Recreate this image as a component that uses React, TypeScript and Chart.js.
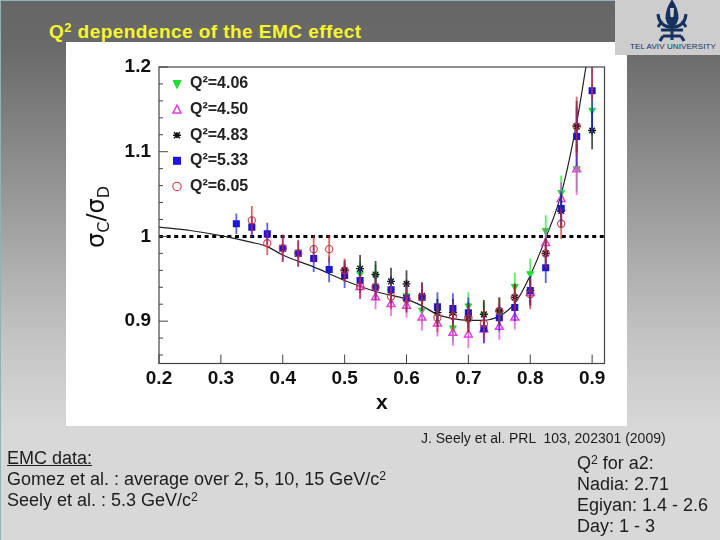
import { useEffect, useRef } from "react"
import type { CSSProperties } from "react"
import { Chart, registerables } from "chart.js"

Chart.register(...registerables)

const xValues = [
  0.325, 0.35, 0.375, 0.4, 0.425, 0.45, 0.475, 0.5, 0.525, 0.55, 0.575, 0.6,
  0.625, 0.65, 0.675, 0.7, 0.725, 0.75, 0.775, 0.8, 0.825, 0.85, 0.875, 0.9,
]

const _ = null
const q406 = [_, _, _, _, _, _, _, _, 0.956, 0.953, 0.935, 0.93, 0.913, 0.912, 0.892, 0.918, 0.907, 0.912, 0.941, 0.956, 1.007, 1.052, 1.08, 1.149]
const q450 = [_, _, _, _, _, _, _, _, 0.94, 0.928, 0.92, 0.918, 0.904, 0.897, 0.886, 0.884, 0.89, 0.893, 0.904, 0.933, 0.992, 1.044, 1.079, _]
const q483 = [_, _, _, _, _, _, _, 0.96, 0.962, 0.955, 0.947, 0.944, 0.93, 0.91, 0.91, 0.905, 0.908, 0.912, 0.928, 0.936, 0.98, 1.03, 1.13, 1.125]
const q533 = [1.015, 1.011, 1.003, 0.986, 0.98, 0.974, 0.961, 0.954, 0.948, 0.94, 0.937, 0.927, 0.928, 0.917, 0.915, 0.91, 0.891, 0.904, 0.916, 0.936, 0.963, 1.033, 1.118, 1.172]
const q605 = [_, 1.019, 0.992, 0.986, 0.98, 0.985, 0.985, 0.96, 0.941, 0.94, 0.929, 0.926, 0.928, 0.904, 0.906, 0.903, 0.897, 0.912, 0.928, 0.932, 0.98, 1.015, 1.13, 1.22]

const err406 = [_, _, _, _, _, _, _, _, 0.014, 0.014, 0.015, 0.015, 0.015, 0.015, 0.016, 0.016, 0.016, 0.015, 0.016, 0.018, 0.018, 0.02, 0.027, 0.03]
const err450 = [_, _, _, _, _, _, _, _, 0.014, 0.014, 0.014, 0.014, 0.015, 0.015, 0.015, 0.016, 0.016, 0.015, 0.014, 0.016, 0.018, 0.02, 0.03, _]
const err483 = [_, _, _, _, _, _, _, 0.012, 0.016, 0.016, 0.016, 0.016, 0.016, 0.016, 0.016, 0.017, 0.017, 0.016, 0.016, 0.017, 0.018, 0.02, 0.03, 0.022]
const err533 = [0.012, 0.012, 0.013, 0.016, 0.015, 0.016, 0.015, 0.015, 0.015, 0.015, 0.016, 0.016, 0.016, 0.017, 0.018, 0.018, 0.017, 0.016, 0.016, 0.017, 0.018, 0.02, 0.035, 0.05]
const err605 = [_, 0.017, 0.014, 0.016, 0.016, 0.016, 0.016, 0.014, 0.015, 0.015, 0.015, 0.016, 0.016, 0.017, 0.017, 0.017, 0.017, 0.016, 0.016, 0.018, 0.018, 0.018, 0.035, 0.06]

const curveX = [0.2, 0.25, 0.3, 0.35, 0.375, 0.4, 0.45, 0.5, 0.55, 0.6, 0.625, 0.65, 0.675, 0.7, 0.725, 0.75, 0.775, 0.8, 0.825, 0.85, 0.875, 0.89]
const curveY = [1.011, 1.007, 1.001, 0.993, 0.988, 0.978, 0.964, 0.948, 0.935, 0.926, 0.918, 0.908, 0.903, 0.901, 0.901, 0.906, 0.921, 0.954, 0.998, 1.05, 1.134, 1.2]

const unityX = [0.2, 0.92]
const unityY = [1, 1]

const xTicks = [0.2, 0.3, 0.4, 0.5, 0.6, 0.7, 0.8, 0.9]
const yTicks = [0.86, 0.88, 0.9, 0.92, 0.94, 0.96, 0.98, 1, 1.02, 1.04, 1.06, 1.08, 1.1, 1.12, 1.14, 1.16, 1.18, 1.2]
const yLabelled = [0.9, 1, 1.1, 1.2]

const legendLabels = ["Q²=4.06", "Q²=4.50", "Q²=4.83", "Q²=5.33", "Q²=6.05"]

function zipPoints(xs: (number | null)[], ys: (number | null)[]) {
  return xs
    .map((x, i) => ({ x: x as number, y: ys[i] as number }))
    .filter((p) => p.y !== null)
}

function seriesData(values: (number | null)[]) {
  return zipPoints(xValues, values)
}

const isMajor = (v: number) => yLabelled.some((m) => Math.abs(m - v) < 1e-6)

// inward ticks and the box around the plot
const framePlugin = {
  id: "frame",
  afterDraw(chart: any) {
    const { ctx, chartArea: a, scales } = chart
    ctx.save()
    ctx.strokeStyle = "#444444"
    ctx.lineWidth = 1.2
    ctx.strokeRect(a.left, a.top, a.right - a.left, a.bottom - a.top)
    ctx.lineWidth = 1
    ctx.beginPath()
    for (const v of xTicks) {
      const px = scales.x.getPixelForValue(v)
      ctx.moveTo(px, a.bottom)
      ctx.lineTo(px, a.bottom - 9)
    }
    for (const v of yTicks) {
      const py = scales.y.getPixelForValue(v)
      ctx.moveTo(a.left, py)
      ctx.lineTo(a.left + (isMajor(v) ? 9 : 4), py)
    }
    ctx.stroke()
    ctx.restore()
  },
}

// vertical error bars, semi transparent like the blurred original
const errorBarPlugin = {
  id: "errorBars",
  afterDatasetsDraw(chart: any) {
    const { ctx, chartArea: a, scales } = chart
    ctx.save()
    ctx.beginPath()
    ctx.rect(a.left, a.top, a.right - a.left, a.bottom - a.top)
    ctx.clip()
    ctx.lineWidth = 1.8
    chart.data.datasets.forEach((ds: any) => {
      if (!ds.errs) return
      ctx.strokeStyle = ds.errColor
      ds.errs.forEach((e: number | null, i: number) => {
        const v = ds.values[i]
        if (e === null || v === null) return
        const px = scales.x.getPixelForValue(xValues[i])
        ctx.beginPath()
        ctx.moveTo(px, scales.y.getPixelForValue(v - e))
        ctx.lineTo(px, scales.y.getPixelForValue(v + e))
        ctx.stroke()
      })
    })
    ctx.restore()
  },
}

// legend sits inside the plot, top left
const insideLegendPlugin = {
  id: "insideLegend",
  afterDraw(chart: any) {
    const { ctx } = chart
    const sets = chart.data.datasets.filter((ds: any) => ds.errs)
    ctx.save()
    ctx.font = "bold 16px 'Liberation Sans'"
    ctx.textBaseline = "middle"
    sets.forEach((ds: any, i: number) => {
      const y = 84 + i * 25.6
      const x = 177
      ctx.strokeStyle = ds.borderColor
      ctx.fillStyle = ds.backgroundColor
      ctx.lineWidth = ds.borderWidth
      ctx.beginPath()
      if (ds.pointStyle === "triangle") {
        const dir = ds.rotation === 180 ? -1 : 1
        ctx.moveTo(x, y - 4.5 * dir)
        ctx.lineTo(x + 4, y + 3.5 * dir)
        ctx.lineTo(x - 4, y + 3.5 * dir)
        ctx.closePath()
        ctx.fill()
        ctx.stroke()
      } else if (ds.pointStyle === "rect") {
        ctx.fillRect(x - 4, y - 4, 8, 8)
      } else if (ds.pointStyle === "circle") {
        ctx.arc(x, y, 4.2, 0, Math.PI * 2)
        ctx.fill()
        ctx.stroke()
      } else {
        ctx.lineWidth = 1.5
        ctx.moveTo(x - 4, y)
        ctx.lineTo(x + 4, y)
        ctx.moveTo(x - 3, y - 3)
        ctx.lineTo(x + 3, y + 3)
        ctx.moveTo(x - 3, y + 3)
        ctx.lineTo(x + 3, y - 3)
        ctx.moveTo(x, y - 3)
        ctx.lineTo(x, y + 3)
        ctx.stroke()
      }
      ctx.fillStyle = "#222222"
      ctx.fillText(legendLabels[i], 190, y)
    })
    ctx.restore()
  },
}

function EmcChart() {
  const chartRef = useRef<HTMLCanvasElement>(null)

  useEffect(() => {
    if (!chartRef.current) return
    const markerSet = (
      values: (number | null)[],
      errs: (number | null)[],
      errColor: string,
      style: any,
    ) => ({
      type: "scatter" as const,
      data: seriesData(values),
      values,
      errs,
      errColor,
      showLine: false,
      pointStyle: style.pointStyle,
      rotation: style.rotation ?? 0,
      pointRotation: style.rotation ?? 0,
      pointRadius: style.radius,
      backgroundColor: style.fill,
      pointBackgroundColor: style.fill,
      borderColor: style.stroke,
      pointBorderColor: style.stroke,
      borderWidth: style.width,
      pointBorderWidth: style.width,
      order: style.order,
    })

    const chart = new Chart(chartRef.current, {
      type: "scatter",
      data: {
        datasets: [
          markerSet(q406, err406, "rgba(40,230,50,0.75)", { pointStyle: "triangle", rotation: 180, radius: 4, fill: "#22dd33", stroke: "#22dd33", width: 1, order: 6 }),
          markerSet(q450, err450, "rgba(235,60,225,0.7)", { pointStyle: "triangle", radius: 4.5, fill: "rgba(255,255,255,0)", stroke: "#e23ee0", width: 1.5, order: 5 }),
          markerSet(q483, err483, "rgba(10,10,10,0.7)", { pointStyle: "star", radius: 4, fill: "#000000", stroke: "#111111", width: 1.4, order: 4 }),
          markerSet(q533, err533, "rgba(30,30,220,0.7)", { pointStyle: "rect", radius: 5, fill: "#1c14d6", stroke: "#1c14d6", width: 0, order: 3 }),
          markerSet(q605, err605, "rgba(205,40,50,0.7)", { pointStyle: "circle", radius: 3.6, fill: "rgba(255,255,255,0)", stroke: "#cc3b44", width: 1.1, order: 2 }),
          {
            type: "line" as const,
            data: zipPoints(curveX, curveY),
            borderColor: "#222222",
            borderWidth: 1.2,
            pointRadius: 0,
            cubicInterpolationMode: "monotone" as const,
            order: 7,
          },
          {
            type: "line" as const,
            data: zipPoints(unityX, unityY),
            borderColor: "#000000",
            borderWidth: 3,
            borderDash: [4, 3.6],
            pointRadius: 0,
            order: 8,
          },
        ] as any,
      },
      options: {
        responsive: false,
        animation: false,
        devicePixelRatio: 1,
        layout: { padding: { top: 67, right: 115.5, left: 0, bottom: 0 } },
        plugins: {
          legend: { display: false },
          tooltip: { enabled: false },
        },
        scales: {
          x: {
            type: "linear",
            min: 0.2,
            max: 0.92,
            grid: { display: false, drawTicks: false },
            border: { display: false },
            afterFit: (scale: any) => {
              scale.height = 176.5
            },
            afterBuildTicks: (axis: any) => {
              axis.ticks = xTicks.map((value) => ({ value }))
            },
            ticks: {
              autoSkip: false,
              maxRotation: 0,
              padding: 4,
              color: "#111111",
              font: { family: "'Liberation Sans'", size: 19, weight: "bold" },
              callback: (v: any) => Number(v).toFixed(1),
            },
            title: {
              display: true,
              text: "x",
              color: "#111111",
              padding: { top: 2, bottom: 124 },
              font: { family: "'Liberation Sans'", size: 21, weight: "bold" },
            },
          },
          y: {
            type: "linear",
            min: 0.85,
            max: 1.2,
            grid: { display: false, drawTicks: false },
            border: { display: false },
            afterFit: (scale: any) => {
              scale.width = 159
            },
            afterBuildTicks: (axis: any) => {
              axis.ticks = yTicks.map((value) => ({ value }))
            },
            ticks: {
              autoSkip: false,
              padding: 8,
              color: "#111111",
              font: { family: "'Liberation Sans'", size: 19, weight: "bold" },
              callback: (v: any) => (isMajor(Number(v)) ? String(Number(Number(v).toFixed(1))) : ""),
            },
          },
        },
      },
      plugins: [framePlugin, errorBarPlugin, insideLegendPlugin],
    } as any)

    return () => chart.destroy()
  }, [])

  return <canvas ref={chartRef} width={720} height={540} style={{ position: "absolute", left: 0, top: 0, display: "block" }} />
}

const sans = "'Liberation Sans', Arial, sans-serif"

const note = (left: number, top: number, size = 18): CSSProperties => ({
  position: "absolute",
  left,
  top,
  fontFamily: sans,
  fontSize: size,
  lineHeight: "18px",
  color: "#1c1c1c",
  whiteSpace: "pre",
})

const sup: CSSProperties = { fontSize: "0.68em", verticalAlign: "0.45em", lineHeight: 0 }

function Logo() {
  return (
    <div style={{ position: "absolute", left: 615, top: 0, width: 105, height: 55, background: "#cdcdcd" }}>
      <svg width={105} height={42} style={{ position: "absolute", left: 0, top: 0 }}>
        <g fill="none" stroke="#16305f" strokeWidth={3}>
          <path d="M57 2 C53 8 52 13 52 18 C53 23 55 25 57 25 C59 25 61 23 62 18 C62 13 61 8 57 2Z" fill="#16305f" />
          <path d="M43 14 C44 24 50 27 57 27 C64 27 70 24 71 14" />
          <path d="M47 21 L43 27 M67 21 L71 27" />
          <path d="M57 25 L57 40 M46 30 L68 30 M48 36 L66 36 M48 36 L45 41 M66 36 L69 41" />
        </g>
        <path d="M55 8 L59 8 L58.5 17 L55.5 17Z" fill="#cdcdcd" />
      </svg>
      <div style={{ position: "absolute", left: 15, top: 42, fontFamily: sans, fontSize: 8, letterSpacing: 0.1, color: "#16305f", whiteSpace: "pre" }}>
        TEL AVIV UNIVERSITY
      </div>
    </div>
  )
}

export default function App() {
  return (
    <div
      style={{
        position: "fixed",
        left: 0,
        top: 0,
        width: 720,
        height: 540,
        overflow: "hidden",
        background: "linear-gradient(180deg, #666666 0px, #6a6a6a 50px, #c4c4c4 340px, #d8d8d8 430px, #d8d8d8 540px)",
      }}
    >
      <div style={{ position: "absolute", left: 0, top: 0, width: 720, height: 1, background: "#8fb4b8" }} />
      <div style={{ position: "absolute", left: 0, top: 0, width: 1, height: 540, background: "#8fb4b8" }} />
      <div style={{ position: "absolute", left: 66, top: 42, width: 561, height: 384, background: "#ffffff" }} />
      <Logo />
      <div style={{ position: "absolute", left: 49, top: 21, fontFamily: sans, fontSize: 19, fontWeight: "bold", letterSpacing: 0.45, lineHeight: "22px", color: "#f7f72c", whiteSpace: "pre" }}>
        Q<span style={sup}>2</span> dependence of the EMC effect
      </div>
      <EmcChart />
      <div
        style={{
          position: "absolute",
          left: 61,
          top: 201,
          width: 70,
          height: 32,
          transform: "rotate(-90deg)",
          textAlign: "center",
          fontFamily: "'DejaVu Sans', sans-serif",
          fontSize: 24,
          lineHeight: "32px",
          color: "#111111",
          whiteSpace: "pre",
        }}
      >
        σ<span style={{ fontSize: 16, verticalAlign: "-0.3em", lineHeight: 0 }}>C</span>/σ
        <span style={{ fontSize: 16, verticalAlign: "-0.3em", lineHeight: 0 }}>D</span>
      </div>
      <div style={note(421, 429, 14)}>J. Seely et al. PRL  103, 202301 (2009)</div>
      <div style={note(7, 449)}>
        <span style={{ textDecoration: "underline" }}>EMC data:</span>
      </div>
      <div style={note(7, 470)}>
        Gomez et al. : average over 2, 5, 10, 15 GeV/c<span style={sup}>2</span>
      </div>
      <div style={note(7, 491)}>
        Seely et al. : 5.3 GeV/c<span style={sup}>2</span>
      </div>
      <div style={note(577, 454)}>
        Q<span style={sup}>2</span> for a2:
      </div>
      <div style={note(577, 475)}>Nadia: 2.71</div>
      <div style={note(577, 496)}>Egiyan: 1.4 - 2.6</div>
      <div style={note(577, 517)}>Day: 1 - 3</div>
    </div>
  )
}
